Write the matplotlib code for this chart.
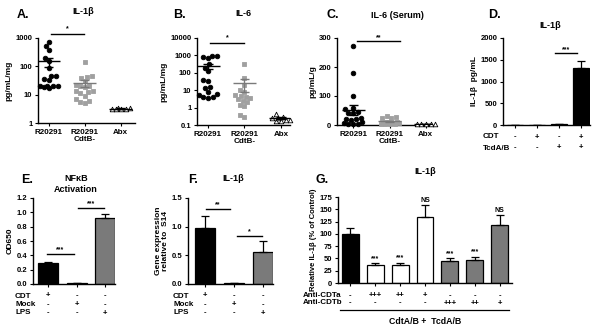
import matplotlib
matplotlib.use('Agg')
import matplotlib.pyplot as plt
import numpy as np
from matplotlib import transforms
from matplotlib.lines import Line2D

plt.rcParams['font.family'] = ['Liberation Sans', 'DejaVu Sans']
plt.rcParams['font.weight'] = 'bold'
plt.rcParams['axes.labelweight'] = 'bold'

# ---------------- data ----------------
groups = ["R20291", "R20291\nCdtB-", "Abx"]

a_r20291 = [750, 520, 370, 200, 160, 90, 46, 46, 37, 32, 21, 21, 21, 21, 18, 17]
a_cdtb = [140, 45, 42, 40, 30, 22, 20, 20, 18, 14, 13, 12, 11, 9, 7, 6, 5.5, 5]
a_abx = [3.5, 3.2, 3.0, 3.0, 3.0, 3.3]

b_r20291 = [950, 900, 850, 700, 300, 200, 120, 40, 35, 15, 14, 8, 6, 5, 4, 4, 3.7]
b_cdtb = [300, 50, 20, 10, 8, 5, 4.5, 4, 3.5, 3, 2.5, 2, 1.5, 1.2, 0.4, 0.3]
b_abx = [0.45, 0.3, 0.25, 0.2, 0.18, 0.18, 0.2, 0.25]

c_r20291 = [271, 178, 101, 60, 55, 45, 42, 40, 25, 22, 20, 18, 10, 6, 5, 4, 3]
c_cdtb = [30, 27, 25, 25, 12, 10, 10, 8, 8, 6, 6, 5, 5, 4, 3]
c_abx = [2, 2, 2, 2, 2]

d_vals = [5, 8, 15, 1300]
d_err = [0, 0, 0, 170]
d_cdt = ["-", "+", "-", "+"]
d_tcd = ["-", "-", "+", "+"]

e_vals = [0.30, 0.01, 0.92]
e_err = [0.01, 0.005, 0.05]
f_vals = [0.98, 0.01, 0.55]
f_err = [0.21, 0.005, 0.2]
ef_cdt = ["+", "-", "-"]
ef_mock = ["-", "+", "-"]
ef_lps = ["-", "-", "+"]

g_vals = [100, 36, 37, 134, 45, 47, 118]
g_err = [11, 4, 4, 24, 5, 6, 20]
g_sig = ["", "***", "***", "NS", "***", "***", "NS"]
g_cdta = ["-", "+++", "++", "+", "-", "-", "-"]
g_cdtb = ["-", "-", "-", "-", "+++", "++", "+"]

BLACK = "#000000"
GREY = "#a0a0a0"
DGREY = "#7a7a7a"
# ---------------------------------------

W, H = 602, 335
fig = plt.figure(figsize=(6.02, 3.35), dpi=100)
fig.patch.set_facecolor('white')
FS = 5.5


def add_ax(l, t, r, b):
    return fig.add_axes([l / W, 1 - b / H, (r - l) / W, (b - t) / H])


def style(ax):
    for s in ['top', 'right']:
        ax.spines[s].set_visible(False)
    for s in ['left', 'bottom']:
        ax.spines[s].set_linewidth(1.0)
    ax.tick_params(direction='out', length=2.5, width=0.8, labelsize=FS, pad=1.5)
    ax.minorticks_off()


def ftext(x, y, s, **kw):
    fig.text(x / W, 1 - y / H, s, **kw)


def beeswarm(ax, x0, vals, d=4.8, cap=9.0):
    """x offsets (data units) for a capped beeswarm layout in pixel space."""
    v = np.asarray(vals, float)
    pts = ax.transData.transform(np.column_stack([np.full(len(v), x0), v]))
    ys = pts[:, 1]
    pxu = ax.transData.transform((1, 0))[0] - ax.transData.transform((0, 0))[0]
    order = np.argsort(ys)
    grid = np.arange(-cap, cap + 0.01, 0.25)
    grid = grid[np.argsort(np.abs(grid) + 1e-3 * grid)]
    placed_x, placed_y = [], []
    offs = np.zeros(len(v))
    for idx in order:
        y = ys[idx]
        if placed_x:
            px = np.array(placed_x)
            py = np.array(placed_y)
            dist = np.sqrt((grid[:, None] - px[None, :]) ** 2 + (y - py[None, :]) ** 2).min(axis=1)
            ok = np.where(dist >= d)[0]
            c = grid[ok[0]] if len(ok) else grid[np.argmax(dist)]
        else:
            c = 0.0
        placed_x.append(c)
        placed_y.append(y)
        offs[idx] = c / pxu
    return offs


def scatter_panel(ax, data):
    specs = [('o', BLACK, BLACK, BLACK), ('s', GREY, GREY, DGREY), ('^', 'white', BLACK, BLACK)]
    for i, (vals, (mk, fc, ec, lc)) in enumerate(zip(data, specs)):
        v = np.asarray(vals, float)
        offs = beeswarm(ax, i, v)
        ax.scatter(i + offs, v, marker=mk, s=11, facecolor=fc, edgecolor=ec,
                   linewidth=0.6, zorder=3, clip_on=False)
        m = v.mean()
        sem = v.std(ddof=1) / np.sqrt(len(v))
        ax.hlines(m, i - 0.32, i + 0.32, color=lc, lw=1.0, zorder=4)
        ax.vlines(i, m - sem, m + sem, color=lc, lw=1.0, zorder=4)
        ax.hlines([m - sem, m + sem], i - 0.13, i + 0.13, color=lc, lw=1.0, zorder=4)
    ax.set_xticks(range(3))
    ax.set_xticklabels(groups, fontsize=FS + 0.3, linespacing=1.0)


def sig(ax, x0, x1, y, s, dy_pts=1.0):
    ax.plot([x0, x1], [y, y], color='black', lw=1.0, clip_on=False)
    ax.annotate(s, xy=((x0 + x1) / 2, y), xytext=(0, dy_pts), textcoords='offset points',
                ha='center', va='bottom', fontsize=FS - 0.5, annotation_clip=False)


def rows(ax, ys_px, labels_list, lx, names, ha='left'):
    tr = transforms.blended_transform_factory(ax.transData, fig.transFigure)
    for y, labels, name in zip(ys_px, labels_list, names):
        ftext(lx, y, name, ha=ha, va='center', fontsize=FS + 0.3)
        for i, s in enumerate(labels):
            ax.text(i, 1 - y / H, s, transform=tr, ha='center', va='center', fontsize=FS)


# ---- A ----
ax = add_ax(38, 38, 135, 123)
style(ax)
ax.set_yscale('log')
ax.set_ylim(1, 1000)
ax.set_xlim(-0.3, 2.4)
scatter_panel(ax, [a_r20291, a_cdtb, a_abx])
ax.set_yticks([1, 10, 100, 1000])
ax.set_yticklabels(['1', '10', '100', '1000'])
ax.minorticks_off()
ax.set_ylabel('pg/mL/mg', fontsize=FS + 0.5, labelpad=2)
sig(ax, 0.05, 0.98, 1380, '*')
ftext(17, 15, 'A.', fontsize=9, va='center', ha='left')
ftext(83, 12, 'IL-1β', fontsize=6.5, va='center', ha='center')

# ---- B ----
ax = add_ax(197, 38, 290, 125)
style(ax)
ax.set_yscale('log')
ax.set_ylim(0.1, 10000)
ax.set_xlim(-0.3, 2.25)
scatter_panel(ax, [b_r20291, b_cdtb, b_abx])
ax.set_yticks([0.1, 1, 10, 100, 1000, 10000])
ax.set_yticklabels(['0.1', '1', '10', '100', '1000', '10000'])
ax.minorticks_off()
ax.set_ylabel('pg/mL/mg', fontsize=FS + 0.5, labelpad=2)
sig(ax, 0.05, 1.0, 5150, '*')
ftext(173, 15, 'B.', fontsize=9, va='center', ha='left')
ftext(243, 13, 'IL-6', fontsize=6.5, va='center', ha='center')

# ---- C ----
ax = add_ax(337, 38, 433, 125)
style(ax)
ax.set_ylim(0, 300)
ax.set_xlim(-0.45, 2.2)
scatter_panel(ax, [c_r20291, c_cdtb, c_abx])
ax.set_yticks([0, 100, 200, 300])
ax.set_ylabel('pg/mL/g', fontsize=FS + 0.5, labelpad=2)
sig(ax, 0.1, 1.3, 290, '**', dy_pts=-0.5)
ftext(327, 15, 'C.', fontsize=9, va='center', ha='left')
ftext(397, 15, 'IL-6 (Serum)', fontsize=6.5, va='center', ha='center')


def bar_panel(ax, vals, err, colors, width):
    x = np.arange(len(vals))
    ax.bar(x, vals, width=width, color=colors, edgecolor='black', linewidth=0.9, zorder=2)
    ax.errorbar(x, vals, yerr=[np.zeros(len(err)), err], fmt='none', ecolor='black',
                elinewidth=0.9, capsize=2.8, capthick=0.9, zorder=3)
    ax.set_xticks(x)
    ax.set_xticklabels([''] * len(vals))


# ---- D ----
ax = add_ax(503, 38, 590, 125)
style(ax)
bar_panel(ax, d_vals, d_err, [BLACK] * 4, 0.7)
ax.set_xlim(-0.55, 3.4)
ax.set_ylim(0, 2000)
ax.set_yticks([0, 500, 1000, 1500, 2000])
ax.set_ylabel('IL-1β  pg/mL', fontsize=FS + 0.5, labelpad=2)
sig(ax, 1.8, 2.8, 1650, '***', dy_pts=0.3)
rows(ax, [137, 148], [d_cdt, d_tcd], 483, ['CDT', 'TcdA/B'])
ftext(488, 15, 'D.', fontsize=9, va='center', ha='left')
ftext(550, 26, 'IL-1β', fontsize=6.5, va='center', ha='center')

# ---- E ----
ax = add_ax(33, 198, 115, 284)
style(ax)
bar_panel(ax, e_vals, e_err, [BLACK, BLACK, DGREY], 0.7)
ax.set_xlim(-0.53, 2.35)
ax.set_ylim(0, 1.2)
ax.set_yticks(np.arange(0, 1.21, 0.2))
ax.yaxis.set_major_formatter(matplotlib.ticker.FormatStrFormatter('%.1f'))
ax.set_ylabel('OD650', fontsize=FS + 0.5, labelpad=2)
sig(ax, -0.03, 0.9, 0.42, '***', dy_pts=0.3)
sig(ax, 1.05, 1.96, 1.06, '***', dy_pts=0.3)
rows(ax, [296, 304.5, 313], [ef_cdt, ef_mock, ef_lps], 15, ['CDT', 'Mock', 'LPS'])
ftext(21, 180, 'E.', fontsize=9, va='center', ha='left')
ftext(76, 178, 'NFκB', fontsize=6.5, va='center', ha='center')
ftext(76, 190, 'Activation', fontsize=6.5, va='center', ha='center')

# ---- F ----
ax = add_ax(188, 198, 273, 284)
style(ax)
bar_panel(ax, f_vals, f_err, [BLACK, BLACK, DGREY], 0.7)
ax.set_xlim(-0.6, 2.35)
ax.set_ylim(0, 1.5)
ax.set_yticks([0, 0.5, 1.0, 1.5])
ax.yaxis.set_major_formatter(matplotlib.ticker.FormatStrFormatter('%.1f'))
ax.set_ylabel('Gene expression\nrelative to  S14', fontsize=FS + 0.5, labelpad=2, linespacing=1.1)
sig(ax, 0.03, 0.86, 1.31, '**', dy_pts=0.3)
sig(ax, 1.1, 1.97, 0.84, '*', dy_pts=0.3)
rows(ax, [296, 304.5, 313], [ef_cdt, ef_mock, ef_lps], 173, ['CDT', 'Mock', 'LPS'])
ftext(188, 180, 'F.', fontsize=9, va='center', ha='left')
ftext(233, 178, 'IL-1β', fontsize=6.5, va='center', ha='center')

# ---- G ----
ax = add_ax(338, 197, 512, 283)
style(ax)
g_colors = [BLACK, 'white', 'white', 'white', DGREY, DGREY, DGREY]
bar_panel(ax, g_vals, g_err, g_colors, 0.68)
ax.set_xlim(-0.5, 6.5)
ax.set_ylim(0, 175)
ax.set_yticks(np.arange(0, 176, 25))
ax.set_ylabel('Relative IL-1β (% of Control)', fontsize=FS, labelpad=2)
for i, (v, e, s) in enumerate(zip(g_vals, g_err, g_sig)):
    if s:
        ax.annotate(s, xy=(i, v + e), xytext=(0, 1.0), textcoords='offset points',
                    ha='center', va='bottom', fontsize=FS - 0.5, annotation_clip=False)
rows(ax, [295.5, 303], [g_cdta, g_cdtb], 303, ['Anti-CDTa', 'Anti-CDTb'])
fig.add_artist(Line2D([340 / W, 509 / W], [1 - 310 / H, 1 - 310 / H], color='black', lw=0.9))
ftext(425, 322, 'CdtA/B +  TcdA/B', fontsize=6.3, va='center', ha='center')
ftext(315, 180, 'G.', fontsize=9, va='center', ha='left')
ftext(425, 172, 'IL-1β', fontsize=6.5, va='center', ha='center')

fig.savefig('out.png', dpi=100, facecolor='white')
